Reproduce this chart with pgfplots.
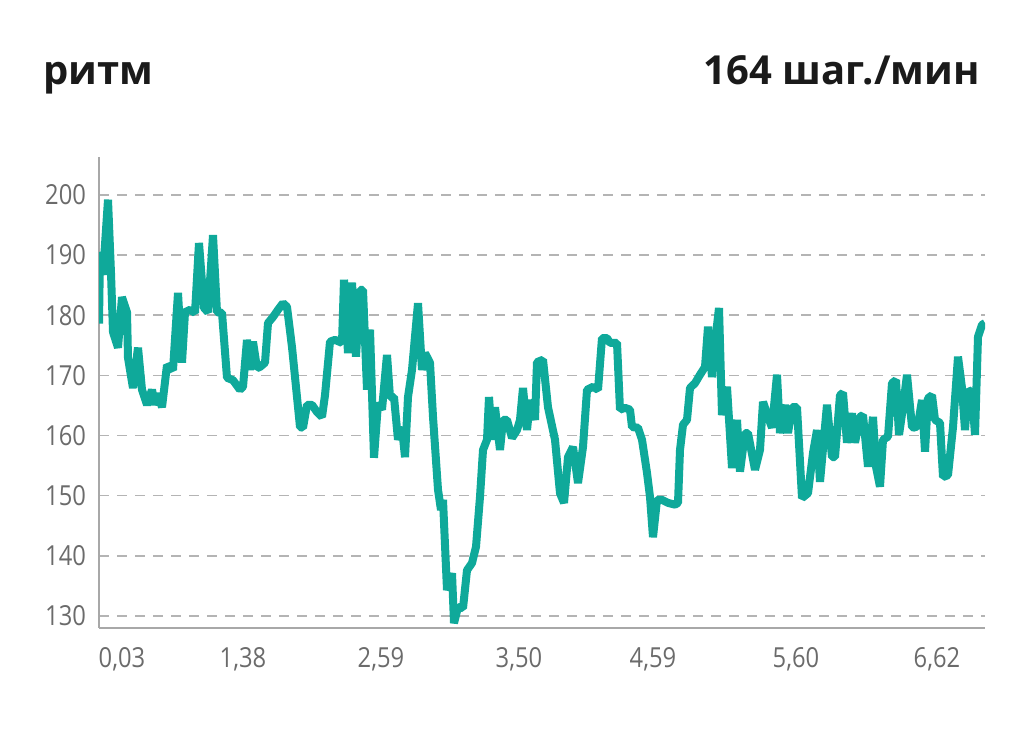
\documentclass[border=0pt]{standalone}
\usepackage{pgfplots}
\pgfplotsset{compat=1.18}
\usepackage{fontspec}
\setmainfont{Open Sans}
\newfontfamily\tickfont[FakeStretch=0.86]{Open Sans}
\newfontfamily\titlefont{Open Sans}
\definecolor{teal1}{HTML}{0FA99A}
\definecolor{tickgray}{HTML}{6B6B6B}
\definecolor{gridgray}{HTML}{B4B4B4}
\definecolor{axgray}{HTML}{A8A8A8}
\definecolor{titleblack}{HTML}{1A1A1A}
\begin{document}
\begin{tikzpicture}
\useasboundingbox (0,0) rectangle (512pt,375pt);
\node[anchor=base west, inner sep=0pt, text=titleblack, font=\titlefont\bfseries\fontsize{20}{24}\selectfont] at (21.5pt,332.5pt) {ритм};
\node[anchor=base east, inner sep=0pt, text=titleblack, font=\titlefont\bfseries\fontsize{20}{24}\selectfont] at (490pt,332.5pt) {164 шаг./мин};
\begin{axis}[
  at={(49.5pt,61pt)}, anchor=south west,
  scale only axis, width=443pt, height=235.5pt,
  xmin=99, xmax=985, ymin=128, ymax=206.3,
  axis x line=bottom, axis y line=left,
  axis line style={-, draw=axgray, line width=0.8pt},
  major tick length=0pt,
  ytick={130,140,...,200},
  xtick={122,243,381,519,653,796,937},
  xticklabels={{0,03},{1,38},{2,59},{3,50},{4,59},{5,60},{6,62}},
  /pgf/number format/assume math mode=true,
  ticklabel style={font=\tickfont\fontsize{13.8}{14}\selectfont, text=tickgray},
  yticklabel style={xshift=-3pt},
  xticklabel style={yshift=-6pt},
  ymajorgrids,
  grid style={dashed, dash pattern=on 5pt off 4pt, draw=gridgray, line width=0.7pt},
  clip=true,
]
\addplot[teal1, line width=4pt, line join=bevel] coordinates {
(99,178.6) (100,190.5) (103,186.7) (108,199.2) (111,187) (113,177.2) (118,174.6) (122,183) (127,180.5) (128,172.9)
(133,167.9) (138,174.6) (142,167.6) (147,165.1) (152,167.6) (155,165.1) (158,167) (162,164.7) (167,171.7) (173,170.9)
(178,183.7) (182,172.1) (185,180.5) (190,180.9) (195,180.4) (199,192) (204,181.2) (208,180.5) (213,193.3) (217,180.5)
(222,180.4) (227,169.6) (233,169.2) (240,167.6) (243,168.1) (247,175.9) (250,170.9) (253,175.6) (257,171.2) (260,171.4)
(265,172.1) (268,178.7) (273,179.7) (278,180.9) (283,182) (287,181.4) (292,174.7) (297,166.4) (300,161.4) (303,161.3)
(307,165.1) (312,165.1) (317,163.9) (322,163.1) (325,166.7) (330,175.6) (335,175.9) (342,175.4) (344,185.9) (348,173.7)
(352,185.4) (356,173.1) (360,184.2) (363,184.2) (367,167.6) (370,177.6) (374,156.3) (378,165.4) (382,164.3) (387,173.4)
(390,166.4) (394,166.4) (398,159.3) (402,161.4) (405,156.4) (408,166.4) (412,170.9) (418,182) (422,170.9) (425,173.7)
(430,172.1) (433,163.1) (438,151) (441,147.6) (443,149.3) (447,134.3) (452,137.1) (454,128.8) (458,131.5) (463,131.3)
(467,137.6) (472,138.8) (476,141.5) (480,149.8) (483,157.6) (487,159.3) (489,166.4) (492,159.3) (495,164.7) (500,157.6)
(503,162.6) (507,162.6) (512,159.6) (517,160.9) (520,162.6) (523,167.9) (527,160.9) (530,165.9) (535,162.6) (537,172.2)
(543,172.6) (548,164.7) (555,159.3) (560,150.4) (564,148.8) (568,156.4) (573,158.1) (578,152.1) (583,158.1) (587,167.6)
(593,168.1) (598,167.6) (602,176.2) (607,176.2) (610,175.4) (613,175.4) (617,175.4) (620,164.3) (625,164.6) (630,164.3)
(632,161.4) (638,161.3) (642,159.3) (647,153.8) (650,149.8) (653,143.1) (657,149.3) (662,149.3) (668,148.8) (675,148.5)
(678,148.8) (680,157.6) (683,161.8) (687,162.6) (690,167.9) (695,168.7) (700,170.1) (705,171.4) (708,178.1) (712,169.7)
(715,175.4) (719,181.2) (722,163.4) (727,168.1) (732,154.6) (737,162.6) (740,154.0) (745,160.4) (748,160.4) (755,154.3)
(760,157.6) (763,165.6) (768,163.1) (772,161.3) (777,170.1) (780,160.4) (785,165.1) (788,160.4) (792,164.7) (797,164.7)
(802,149.6) (808,150.4) (813,157.1) (817,160.9) (820,152.3) (827,165.1) (832,156.4) (835,156.4) (840,166.7) (843,167.1)
(847,158.8) (852,163.7) (855,158.8) (860,163.1) (863,163.4) (868,154.8) (873,163.1) (876,154.8) (880,151.5) (883,159.3)
(888,159.8) (892,168.7) (896,169.2) (899,160.1) (903,164.7) (907,170.1) (912,161.4) (915,161.3) (918,161.8) (922,165.9)
(925,157.3) (928,166.2) (932,166.7) (935,162.6) (940,162.1) (943,153.1) (948,153.4) (953,161.4) (958,173.1) (962,167.9)
(965,160.9) (968,167.6) (972,167.1) (975,160.1) (978,176.4) (982,178.4) (985,178.7)
};
\end{axis}
\end{tikzpicture}
\end{document}
